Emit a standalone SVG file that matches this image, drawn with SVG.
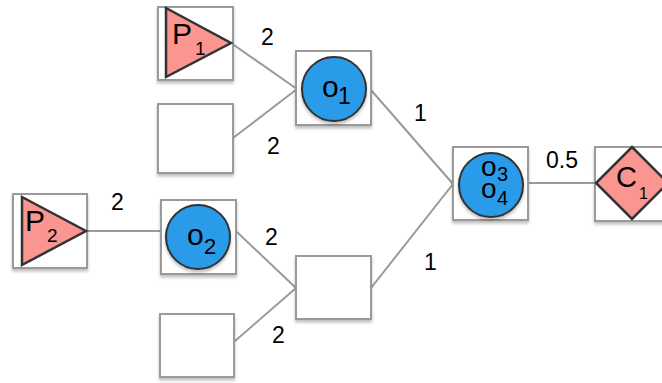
<svg xmlns="http://www.w3.org/2000/svg" width="662" height="383" viewBox="0 0 662 383">
<defs>
<filter id="sh" x="-20%" y="-20%" width="140%" height="150%">
<feDropShadow dx="0" dy="2.5" stdDeviation="1.5" flood-color="#000" flood-opacity="0.25"/>
</filter>
<style>
.box{fill:#fff;stroke:#9a9a9a;stroke-width:2;filter:url(#sh)}
.edge{stroke:#9a9a9a;stroke-width:2;fill:none}
.op{fill:#2a9be8;stroke:#333;stroke-width:2;filter:url(#sh)}
.sh{fill:#fa9590;stroke:#333;stroke-width:2.5;stroke-linejoin:miter}
text{font-family:"Liberation Sans",Arial,sans-serif;fill:#000}
.lbl{font-size:23px}
</style>
</defs>
<g id="connectors">
<line class="edge" x1="231" y1="43" x2="297" y2="89"/>
<line class="edge" x1="233" y1="138" x2="297" y2="89"/>
<line class="edge" x1="86" y1="231" x2="161" y2="231"/>
<line class="edge" x1="237" y1="232" x2="296" y2="288"/>
<line class="edge" x1="235" y1="341" x2="296" y2="288"/>
<line class="edge" x1="371" y1="90" x2="453" y2="184"/>
<line class="edge" x1="371" y1="288" x2="453" y2="184"/>
<line class="edge" x1="528" y1="183" x2="596" y2="183"/>
<text class="lbl" x="261" y="45">2</text>
<text class="lbl" x="267" y="154">2</text>
<text class="lbl" x="111" y="210">2</text>
<text class="lbl" x="265" y="245">2</text>
<text class="lbl" x="272" y="343">2</text>
<text class="lbl" x="414" y="121">1</text>
<text class="lbl" x="424" y="270">1</text>
<text class="lbl" x="546" y="168">0.5</text>
</g>
<g id="P1">
<rect class="box" x="158" y="7" width="75" height="73"/>
<polygon class="sh" points="166,8 231,43 166,77"/>
<text x="172" y="44" font-size="30">P</text>
<text x="195" y="55" font-size="19">1</text>
</g>
<g id="empty1">
<rect class="box" x="158" y="104" width="75" height="69"/>
</g>
<g id="o1">
<rect class="box" x="296" y="51" width="75" height="74"/>
<circle class="op" cx="334" cy="89" r="32"/>
<text x="322" y="97" font-size="30">o</text>
<text x="338" y="104" font-size="23">1</text>
</g>
<g id="P2">
<rect class="box" x="13" y="194" width="74" height="74"/>
<polygon class="sh" points="22,197 86,231 22,265"/>
<text x="25" y="231" font-size="30">P</text>
<text x="47" y="242" font-size="19">2</text>
</g>
<g id="o2">
<rect class="box" x="161" y="200" width="75" height="74"/>
<circle class="op" cx="198" cy="237" r="32"/>
<text x="187" y="245" font-size="30">o</text>
<text x="204" y="254" font-size="22">2</text>
</g>
<g id="empty3">
<rect class="box" x="160" y="314" width="74" height="63"/>
</g>
<g id="empty2">
<rect class="box" x="296" y="256" width="75" height="63"/>
</g>
<g id="o34">
<rect class="box" x="453" y="147" width="75" height="73"/>
<circle class="op" cx="491" cy="185" r="32"/>
<text font-size="28"><tspan x="481" y="176">o</tspan><tspan x="497" y="181" font-size="20">3</tspan><tspan x="481" y="198">o</tspan><tspan x="497" y="205" font-size="20">4</tspan></text>
</g>
<g id="C1">
<rect class="box" x="595" y="147" width="76" height="74"/>
<polygon class="sh" points="632,147 668,183 632,219 596,183"/>
<text x="616" y="187" font-size="29">C</text>
<text x="639" y="199" font-size="16">1</text>
</g>
</svg>
